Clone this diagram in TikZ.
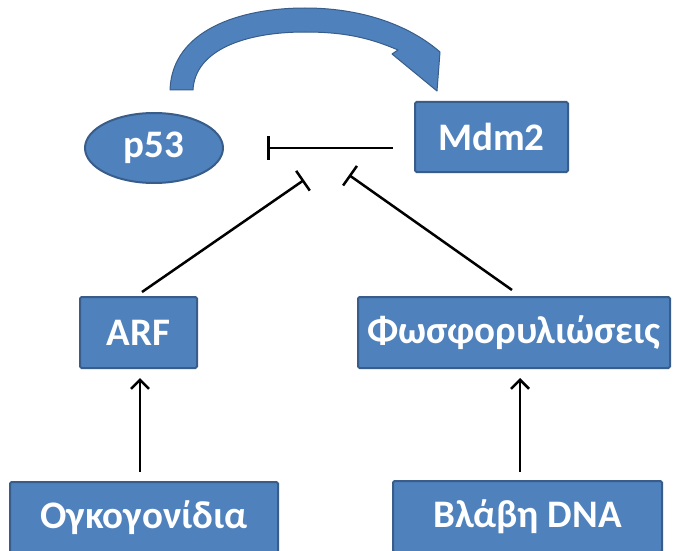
\documentclass[tikz,border=0pt]{standalone}
\usepackage{fontspec}
\setmainfont{Carlito}
\usetikzlibrary{arrows.meta,shapes.geometric}
\definecolor{boxfill}{HTML}{4F81BD}
\definecolor{boxline}{HTML}{385D8A}
\tikzset{
  x=1pt, y=-1pt,
  box/.style={draw=boxline, fill=boxfill, line width=2pt, rounded corners=1.5pt,
    text=white, font=\fontsize{39}{42}\selectfont\bfseries, inner sep=0pt},
  oval/.style={box, ellipse, rounded corners=0pt},
  inhib/.style={line width=2.5pt, -{Bar[width=24pt,line width=2.5pt]}},
  act/.style={line width=2.5pt, -{Straight Barb[length=9pt,width=18pt,line width=2.5pt]}},
  curvedarrow/.style={fill=boxfill, draw=boxline, line width=1pt, line join=round}
}
\begin{document}
\begin{tikzpicture}
\useasboundingbox (0,0) rectangle (673,551);
\fill[white] (0,0) rectangle (673,551);

% curved arrow
\path[curvedarrow] (170,90) .. controls (172,30) and (240,8) .. (305,8)
  .. controls (370,8) and (415,30) .. (440,52) -- (437,91) -- (392,54) -- (398,50)
  .. controls (370,38) and (345,32) .. (305,32)
  .. controls (245,32) and (195,50) .. (193,90) -- cycle;

\node[oval, minimum width=138pt, minimum height=70pt] (p53) at (154,148) {p53};
\node[box, minimum width=153pt, minimum height=70pt] (mdm) at (491.5,137) {Mdm2};
\node[box, minimum width=117pt, minimum height=71pt] (arf) at (138.5,332.5) {ARF};
\node[box, minimum width=312pt, minimum height=71pt] (phos) at (514,332.5) {Φωσφορυλιώσεις};
\node[box, minimum width=268pt, minimum height=71pt] (onc) at (144,517.5) {Ογκογονίδια};
\node[box, minimum width=269pt, minimum height=71pt] (dna) at (527.5,516.5) {Βλάβη DNA};

\coordinate (mdmend) at (393,148);
\coordinate (p53bar) at (267,148);
\coordinate (arfstart) at (142,292);
\coordinate (arfbar) at (304,180);
\coordinate (phosstart) at (512,290);
\coordinate (phosbar) at (349,175);
\coordinate (oncstart) at (140,472);
\coordinate (arftip) at (140,378);
\coordinate (dnastart) at (520,472);
\coordinate (phostip) at (520,378);

\draw[inhib] (mdmend) -- (p53bar);
\draw[inhib] (arfstart) -- (arfbar);
\draw[inhib] (phosstart) -- (phosbar);
\draw[act] (oncstart) -- (arftip);
\draw[act] (dnastart) -- (phostip);
\end{tikzpicture}
\end{document}
